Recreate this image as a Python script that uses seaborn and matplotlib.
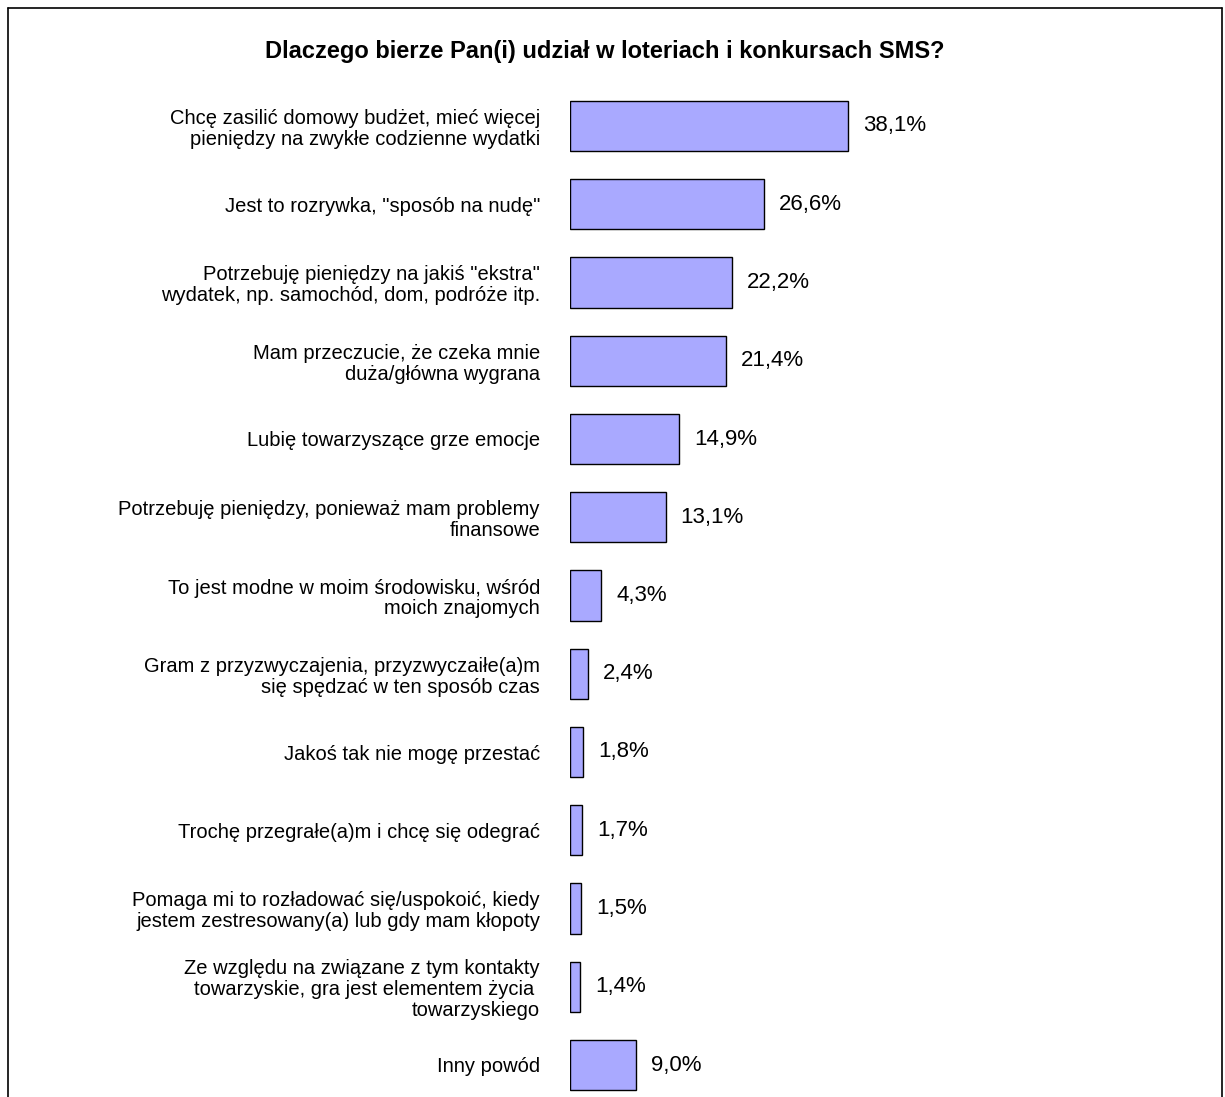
import matplotlib
matplotlib.use("Agg")
import matplotlib.pyplot as plt
from matplotlib.lines import Line2D
import seaborn as sns
import pandas as pd

reasons = [
    "Chcę zasilić domowy budżet, mieć więcej\npieniędzy na zwykłe codzienne wydatki",
    "Jest to rozrywka, \"sposób na nudę\"",
    "Potrzebuję pieniędzy na jakiś \"ekstra\"\nwydatek, np. samochód, dom, podróże itp.",
    "Mam przeczucie, że czeka mnie\nduża/główna wygrana",
    "Lubię towarzyszące grze emocje",
    "Potrzebuję pieniędzy, ponieważ mam problemy\nfinansowe",
    "To jest modne w moim środowisku, wśród\nmoich znajomych",
    "Gram z przyzwyczajenia, przyzwyczaiłe(a)m\nsię spędzać w ten sposób czas",
    "Jakoś tak nie mogę przestać",
    "Trochę przegrałe(a)m i chcę się odegrać",
    "Pomaga mi to rozładować się/uspokoić, kiedy\njestem zestresowany(a) lub gdy mam kłopoty",
    "Ze względu na związane z tym kontakty\ntowarzyskie, gra jest elementem życia \ntowarzyskiego",
    "Inny powód",
]
shares = [38.1, 26.6, 22.2, 21.4, 14.9, 13.1, 4.3, 2.4, 1.8, 1.7, 1.5, 1.4, 9.0]
title = "Dlaczego bierze Pan(i) udział w loteriach i konkursach SMS?"

sns.set_theme(style="white")
plt.rcParams["font.family"] = ["Liberation Sans", "DejaVu Sans"]

W, H = 1225, 1097
fig = plt.figure(figsize=(W / 100, H / 100), dpi=100)

# axes geometry in pixels
x0_px, px_per_unit = 570, 7.3
first_c, step = 126, 78.25
top_px = first_c - step / 2
ax_w_px = 50 * px_per_unit
ax = fig.add_axes([x0_px / W, 0, ax_w_px / W, (H - top_px) / H])

df = pd.DataFrame({"reason": reasons, "share": shares})
sns.barplot(data=df, x="share", y="reason", orient="h", ax=ax,
            color="#A9A9FF", saturation=1, edgecolor="black",
            linewidth=1.0, width=0.64)

ax.set_xlim(0, 50)
ax.set_ylim(-0.5 + (H - top_px) / step, -0.5)
ax.set_xlabel("")
ax.set_ylabel("")
ax.set_xticks([])
for s in ax.spines.values():
    s.set_visible(False)
# 30 px gap between the labels and the bars
ax.tick_params(axis="y", length=0, pad=30 * 0.72, labelsize=14.5, colors="black")
for lab in ax.get_yticklabels():
    lab.set_linespacing(1.12)

for i, v in enumerate(shares):
    ax.text(v + 15 / px_per_unit, i, f"{v:.1f}%".replace(".", ","),
            va="center", ha="left", fontsize=16, color="black")

fig.text(605 / W, 1 - 58 / H, title, ha="center", va="baseline",
         fontsize=17, fontweight="bold", color="black")

# outer frame (open at the bottom)
for xs, ys in [([8, 8], [H, 8]), ([8, 1222], [8, 8]), ([1222, 1222], [8, H])]:
    fig.add_artist(Line2D([x / W for x in xs], [1 - y / H for y in ys],
                          transform=fig.transFigure, color="black", lw=1.2))

fig.savefig("out.png", dpi=100)
